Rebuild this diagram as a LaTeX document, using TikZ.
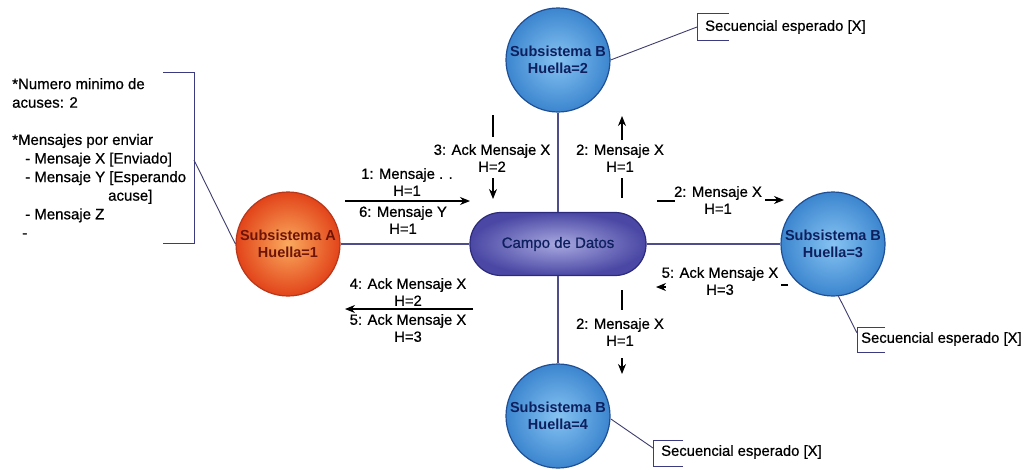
\documentclass[tikz,border=0pt]{standalone}
\usepackage{fontspec}
\setmainfont{Liberation Sans}
\newfontfamily\heavy{Liberation Sans}[FakeBold=0.7]
\usetikzlibrary{arrows.meta}

\definecolor{bluein}{HTML}{86C3F2}
\definecolor{blueout}{HTML}{3C86CF}
\definecolor{blueline}{HTML}{1E4F96}
\definecolor{bluetext}{HTML}{0E1F5E}
\definecolor{orangein}{HTML}{FAAA5E}
\definecolor{orangeout}{HTML}{E2441A}
\definecolor{orangeline}{HTML}{B8361A}
\definecolor{redtext}{HTML}{6E1405}
\definecolor{purplein}{HTML}{A8A8E0}
\definecolor{purpleout}{HTML}{4A48A4}
\definecolor{purpleline}{HTML}{2C2A7C}
\definecolor{linkcol}{HTML}{4E4C8A}
\definecolor{bracketcol}{HTML}{3C3A80}

\begin{document}
\begin{tikzpicture}[x=1pt,y=-1pt,
  subsys/.style={circle, draw=blueline, line width=1.2pt,
    inner color=bluein, outer color=blueout, minimum size=104pt,
    inner sep=0pt, align=center, text=bluetext,
    font=\fontsize{14.5}{16.5}\selectfont\bfseries},
  origin/.style={subsys, draw=orangeline, inner color=orangein,
    outer color=orangeout, text=redtext},
  field/.style={rectangle, rounded corners=31pt, draw=purpleline,
    line width=1.2pt, inner color=purplein, outer color=purpleout,
    minimum width=176pt, minimum height=63pt, text=bluetext,
    font=\heavy\fontsize{15}{17}\selectfont},
  link/.style={draw=linkcol, line width=1.1pt},
  bracket/.style={draw=bracketcol, line width=1pt},
  pointer/.style={draw=linkcol!80!black, line width=0.9pt},
  msg/.style={align=center, inner sep=0pt,
    font=\heavy\fontsize{14.8}{17}\selectfont},
  seq/.style={anchor=west, inner sep=0pt,
    font=\heavy\fontsize{14.8}{17}\selectfont},
  notes/.style={align=left, inner sep=0pt,
    font=\heavy\fontsize{15}{18.6}\selectfont},
  seg/.style={line width=1.1pt},
  arr/.style={seg, -{Stealth[length=10pt,width=8pt]}}
]
\useasboundingbox (0,0) rectangle (1027,469);

% main nodes
\node[field]  (C)  at (558,244) {Campo de Datos};
\node[origin] (A)  at (288,244) {Subsistema A\\Huella=1};
\node[subsys] (B2) at (558,60)  {Subsistema B\\Huella=2};
\node[subsys] (B3) at (833,244) {Subsistema B\\Huella=3};
\node[subsys] (B4) at (558,416) {Subsistema B\\Huella=4};

% links to the data field
\draw[link] (A) -- (C);
\draw[link] (C) -- (B2);
\draw[link] (C) -- (B3);
\draw[link] (C) -- (B4);

% notes of subsystem A
\node[notes, anchor=north west] (notas) at (12,78)
  {*Numero minimo de\\
   acuses: 2\\[18.6pt]
   *Mensajes por enviar\\
   \hspace*{13pt}- Mensaje X [Enviado]\\
   \hspace*{13pt}- Mensaje Y [Esperando\\
   \hspace*{96pt}acuse]\\
   \hspace*{13pt}- Mensaje Z\\
   \hspace*{10pt}-};
\coordinate (lb1) at (163,72);
\coordinate (lb2) at (194,72);
\coordinate (lb3) at (194,243);
\coordinate (lb4) at (163,243);
\coordinate (lbm) at (194,160);
\draw[bracket] (lb1) -- (lb2) -- (lb3) -- (lb4);
\draw[pointer] (lbm) -- (A.west);

% expected sequence notes
\node[seq] (s2) at (705,27) {Secuencial esperado [X]};
\coordinate (t1) at (729,13);
\coordinate (t2) at (697,13);
\coordinate (t3) at (697,40);
\coordinate (t4) at (729,40);
\coordinate (tm) at (697,27);
\draw[bracket] (t1) -- (t2) -- (t3) -- (t4);
\draw[pointer] (B2.east) -- (tm);

\node[seq] (s3) at (861,339) {Secuencial esperado [X]};
\coordinate (r1) at (885,327);
\coordinate (r2) at (857,327);
\coordinate (r3) at (857,352);
\coordinate (r4) at (885,352);
\coordinate (rm) at (857,333);
\draw[bracket] (r1) -- (r2) -- (r3) -- (r4);
\draw[pointer] (B3.-84) -- (rm);

\node[seq] (s4) at (661,452) {Secuencial esperado [X]};
\coordinate (q1) at (683,440);
\coordinate (q2) at (653,440);
\coordinate (q3) at (653,466);
\coordinate (q4) at (683,466);
\coordinate (qm) at (653,448);
\draw[bracket] (q1) -- (q2) -- (q3) -- (q4);
\draw[pointer] (B4.-3) -- (qm);

% messages between A and the data field
\node[msg] (m1) at (407,182) {1: Mensaje . .\\H=1};
\node[msg] (m6) at (403,220) {6: Mensaje Y\\H=1};
\coordinate (a1s) at (345,201);
\coordinate (a1e) at (470,201);
\draw[arr] (a1s) -- (a1e);

\node[msg] (m4) at (408,292) {4: Ack Mensaje X\\H=2};
\node[msg] (m5) at (408,328) {5: Ack Mensaje X\\H=3};
\coordinate (a4s) at (473,309);
\coordinate (a4e) at (345,309);
\draw[arr] (a4s) -- (a4e);

% messages with subsystem B (Huella=2)
\node[msg] (m3) at (492,158) {3: Ack Mensaje X\\H=2};
\coordinate (a3a) at (493,115);
\coordinate (a3b) at (493,137);
\coordinate (a3c) at (493,178);
\coordinate (a3d) at (493,199);
\draw[seg] (a3a) -- (a3b);
\draw[arr] (a3c) -- (a3d);

\node[msg] (m2a) at (620,158) {2: Mensaje X\\H=1};
\coordinate (a2a) at (622,140);
\coordinate (a2b) at (622,116);
\coordinate (a2c) at (622,178);
\coordinate (a2d) at (622,198);
\draw[arr] (a2a) -- (a2b);
\draw[seg] (a2c) -- (a2d);

% messages with subsystem B (Huella=3)
\node[msg] (m2b) at (718,200) {2: Mensaje X\\H=1};
\coordinate (b2a) at (657,201);
\coordinate (b2b) at (675,201);
\coordinate (b2c) at (765,200);
\coordinate (b2d) at (784,200);
\draw[seg] (b2a) -- (b2b);
\draw[arr] (b2c) -- (b2d);

\node[msg] (m5b) at (720,281) {5: Ack Mensaje X\\H=3};
\coordinate (b5a) at (788,285);
\coordinate (b5b) at (781,285);
\coordinate (b5c) at (666,287);
\coordinate (b5d) at (656,287);
\draw[seg] (b5a) -- (b5b);
\draw[arr] (b5c) -- (b5d);

% messages with subsystem B (Huella=4)
\node[msg] (m2c) at (620,332) {2: Mensaje X\\H=1};
\coordinate (c2a) at (622,290);
\coordinate (c2b) at (622,310);
\coordinate (c2c) at (622,358);
\coordinate (c2d) at (622,374);
\draw[seg] (c2a) -- (c2b);
\draw[arr] (c2c) -- (c2d);
\end{tikzpicture}
\end{document}
